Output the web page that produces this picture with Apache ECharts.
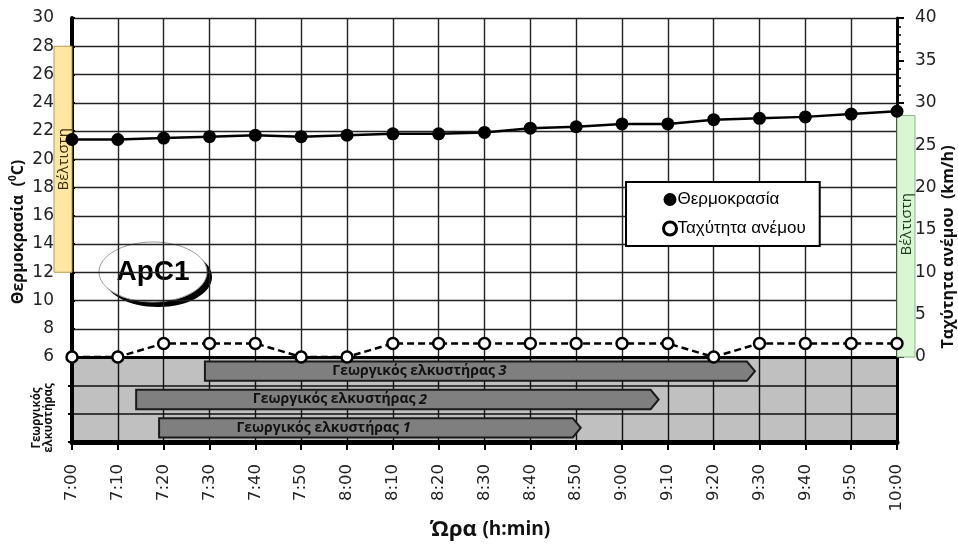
<!DOCTYPE html>
<html>
<head>
<meta charset="utf-8">
<script src="https://cdn.jsdelivr.net/npm/echarts@6/dist/echarts.min.js"></script>
<style>
  html, body { margin: 0; padding: 0; background: #fff; }
  #chart { width: 958px; height: 544px; }
</style>
</head>
<body>
<div id="chart"></div>
<script>
// Measurement times (every 10 minutes)
const times = ['7:00','7:10','7:20','7:30','7:40','7:50','8:00','8:10','8:20','8:30',
               '8:40','8:50','9:00','9:10','9:20','9:30','9:40','9:50','10:00'];
// Air temperature (°C)
const temperature = [21.4, 21.4, 21.5, 21.6, 21.7, 21.6, 21.7, 21.8, 21.8, 21.9,
                     22.2, 22.3, 22.5, 22.5, 22.8, 22.9, 23.0, 23.2, 23.4];
// Wind speed (km/h)
const windSpeed = [0, 0, 1.6, 1.6, 1.6, 0, 0, 1.6, 1.6, 1.6,
                   1.6, 1.6, 1.6, 1.6, 0, 1.6, 1.6, 1.6, 1.6];
// Optimal ranges
const optimalTemp = [12, 28];
const optimalWind = [0, 28.5];
// Tractor working periods
const tractorLabel = 'Γεωργικός ελκυστήρας';
const tractorIds = ['1', '2', '3'];
const tractorStart = ['7:19', '7:14', '7:29'];
const tractorEnd = ['8:51', '9:08', '9:29'];

const toMin = t => { const [h, m] = t.split(':').map(Number); return (h - 7) * 60 + m; };
const fmtMin = v => { const h = 7 + Math.floor(v / 60); const m = v % 60; return h + ':' + (m < 10 ? '0' + m : m); };

const FONT = 'Open Sans';
const TICK_FONT = 'DejaVu Sans';
const chart = echarts.init(document.getElementById('chart'), null, { renderer: 'canvas' });

// Narrow band beside an axis marking the optimal range
function bandItem(color, stroke, textColor, side) {
  return function (params, api) {
    const top = api.coord([0, api.value(1)]);
    const bot = api.coord([0, api.value(0)]);
    const w = 18;
    const cs = params.coordSys;
    const xx = side === 'left' ? cs.x - w : cs.x + cs.width;
    const cy = side === 'left' ? (top[1] + bot[1]) / 2 : (top[1] + bot[1]) / 2 - 12;
    return {
      type: 'group',
      children: [
        { type: 'rect', shape: { x: xx, y: top[1], width: w, height: bot[1] - top[1] },
          style: { fill: color, stroke: stroke, lineWidth: 1 } },
        { type: 'text', x: xx + w / 2 + 1, y: cy, rotation: Math.PI / 2,
          style: { text: 'Βέλτιστη', fontFamily: FONT, fontSize: 15, fill: textColor,
                   align: 'center', verticalAlign: 'middle' } }
      ]
    };
  };
}

const tractorData = tractorIds.map((id, i) => [toMin(tractorStart[i]), toMin(tractorEnd[i]), i + 0.5, id]);

const option = {
  animation: false,
  textStyle: { fontFamily: FONT },
  grid: [
    { left: 72, top: 18, width: 825, height: 339 },
    { left: 72, top: 357, width: 825, height: 85, show: true, backgroundColor: '#c0c0c0', borderWidth: 0 }
  ],
  legend: {
    left: 626, top: 182,
    orient: 'vertical',
    backgroundColor: '#fff', borderColor: '#000', borderWidth: 2,
    padding: [9, 14, 9, 36],
    itemGap: 12, itemWidth: 13, itemHeight: 13,
    textStyle: { fontFamily: 'Liberation Sans', fontSize: 17, color: '#000', padding: [0, 0, 0, -4] },
    data: [
      { name: 'Θερμοκρασία', icon: 'circle', itemStyle: { color: '#000', borderWidth: 0 } },
      { name: 'Ταχύτητα ανέμου', icon: 'circle', itemStyle: { color: '#fff', borderColor: '#000', borderWidth: 3 } }
    ]
  },
  xAxis: [
    { type: 'value', gridIndex: 0, min: 0, max: 180, interval: 10,
      axisLine: { show: true, onZero: false, lineStyle: { color: '#000', width: 3 } },
      axisTick: { show: false }, axisLabel: { show: false },
      splitLine: { show: true, lineStyle: { color: '#222', width: 1.4 } } },
    { type: 'value', gridIndex: 1, min: 0, max: 180, interval: 10,
      axisLine: { show: true, onZero: false, lineStyle: { color: '#000', width: 5 } },
      axisTick: { show: true, length: 8, lineStyle: { color: '#000', width: 2 } },
      axisLabel: { rotate: 90, margin: 22, fontSize: 16.5, color: '#222', fontFamily: TICK_FONT,
                   formatter: v => fmtMin(v) },
      splitLine: { show: true, lineStyle: { color: '#111', width: 1.4 } } }
  ],
  yAxis: [
    { type: 'value', gridIndex: 0, position: 'left', min: 6, max: 30, interval: 2,
      axisLine: { show: true, onZero: false, lineStyle: { color: '#000', width: 4 } },
      axisTick: { show: true, inside: true, length: 3, lineStyle: { color: '#000', width: 2 } },
      axisLabel: { fontSize: 17, color: '#222', margin: 18, fontFamily: TICK_FONT },
      splitLine: { show: true, lineStyle: { color: '#222', width: 1.4 } } },
    { type: 'value', gridIndex: 0, position: 'right', min: 0, max: 40, interval: 5,
      axisLine: { show: true, onZero: false, lineStyle: { color: '#000', width: 3 } },
      axisTick: { show: true, length: 7, lineStyle: { color: '#000', width: 2 } },
      minorTick: { show: true, splitNumber: 5, length: 4, lineStyle: { color: '#000', width: 1.5 } },
      axisLabel: { fontSize: 17, color: '#222', margin: 18, fontFamily: TICK_FONT },
      splitLine: { show: false } },
    { type: 'value', gridIndex: 1, position: 'left', min: 0, max: 3, interval: 1,
      axisLine: { show: true, onZero: false, lineStyle: { color: '#000', width: 4 } },
      axisTick: { show: true, length: 4, lineStyle: { color: '#000', width: 2 } },
      axisLabel: { show: false },
      splitLine: { show: true, lineStyle: { color: '#111', width: 1.5 } } },
    { type: 'value', gridIndex: 1, position: 'right', min: 0, max: 3, interval: 1,
      axisLine: { show: true, onZero: false, lineStyle: { color: '#000', width: 3 } },
      axisTick: { show: false }, axisLabel: { show: false }, splitLine: { show: false } }
  ],
  series: [
    { type: 'custom', name: 'optimalTemp', xAxisIndex: 0, yAxisIndex: 0, z: 1,
      renderItem: bandItem('#fee7a2', '#b89a50', '#3a2e0a', 'left'),
      data: [optimalTemp], silent: true },
    { type: 'custom', name: 'optimalWind', xAxisIndex: 0, yAxisIndex: 1, z: 1,
      renderItem: bandItem('#d9f7d3', '#8fb48a', '#1e3a1e', 'right'),
      data: [optimalWind], silent: true },
    { type: 'custom', name: 'tractors', xAxisIndex: 1, yAxisIndex: 2, z: 3,
      renderItem: function (params, api) {
        const s = api.coord([api.value(0), api.value(2)]);
        const e = api.coord([api.value(1), api.value(2)]);
        const h = api.size([0, 1])[1] * 0.68;
        const y = s[1], tip = 8;
        const x0 = s[0], x1 = e[0];
        return {
          type: 'group',
          children: [
            { type: 'polygon',
              shape: { points: [[x0, y - h / 2], [x1 - tip, y - h / 2], [x1, y], [x1 - tip, y + h / 2], [x0, y + h / 2]] },
              style: { fill: '#7f7f7f', stroke: '#1a1a1a', lineWidth: 2 } },
            { type: 'text', x: x0 + (x1 - x0) * 0.39, y: y,
              style: { text: '{a|' + tractorLabel + ' }{b|' + api.value(3) + '}',
                       align: 'center', verticalAlign: 'middle',
                       rich: {
                         a: { fontFamily: FONT, fontSize: 14, fontWeight: 'bold', fill: '#111', color: '#111' },
                         b: { fontFamily: FONT, fontSize: 14.5, fontStyle: 'italic', fontWeight: 'bold', fill: '#111', color: '#111' }
                       } } }
          ]
        };
      },
      dimensions: ['start', 'end', 'row', 'id'],
      encode: { x: [0, 1], y: 2 },
      data: tractorData, silent: true },
    { type: 'line', name: 'Θερμοκρασία', xAxisIndex: 0, yAxisIndex: 0, z: 5,
      data: times.map((t, i) => [toMin(t), temperature[i]]),
      symbol: 'circle', symbolSize: 13, clip: false,
      lineStyle: { color: '#000', width: 2.5 },
      itemStyle: { color: '#000', borderWidth: 0 } },
    { type: 'line', name: 'Ταχύτητα ανέμου', xAxisIndex: 0, yAxisIndex: 1, z: 6,
      data: times.map((t, i) => [toMin(t), windSpeed[i]]),
      symbol: 'circle', symbolSize: 11, clip: false,
      lineStyle: { color: '#000', width: 2.5, type: [7, 4] },
      itemStyle: { color: '#fff', borderColor: '#000', borderWidth: 2.5 } }
  ],
  graphic: [
    // left axis title
    { type: 'text', rotation: Math.PI / 2, position: [18, 232],
      style: { text: '{a|Θερμοκρασία  (}{s|0}{a|C)}', align: 'center', verticalAlign: 'middle',
               rich: { a: { fontFamily: FONT, fontSize: 16, fontWeight: 'bold', fill: '#111' },
                       s: { fontFamily: FONT, fontSize: 10, fontWeight: 'bold', fill: '#111', padding: [0, 0, 9, 0] } } } },
    // right axis title
    { type: 'text', position: [948, 247], rotation: Math.PI / 2,
      style: { text: 'Ταχύτητα ανέμου  (km/h)', align: 'center', verticalAlign: 'middle',
               fontFamily: FONT, fontSize: 16, fontWeight: 'bold', fill: '#111' } },
    // x axis title
    { type: 'text', position: [490, 530],
      style: { text: '{a|Ώρα }{b|(h:min)}', align: 'center', verticalAlign: 'middle',
               rich: { a: { fontFamily: FONT, fontSize: 22, fontWeight: 'bold', fill: '#111' },
                       b: { fontFamily: FONT, fontSize: 19, fontWeight: 'bold', fill: '#111' } } } },
    // tractor panel title
    { type: 'text', position: [43, 418], rotation: Math.PI / 2,
      style: { text: 'Γεωργικός\nελκυστήρας', align: 'center', verticalAlign: 'middle', lineHeight: 12,
               fontFamily: FONT, fontSize: 11.5, fontWeight: 'bold', fill: '#111' } },
    // site badge
    { type: 'group', z: 10, children: [
      { type: 'ellipse', shape: { cx: 158, cy: 277, rx: 54, ry: 30 }, style: { fill: '#000' } },
      { type: 'ellipse', shape: { cx: 153, cy: 272, rx: 54, ry: 30 }, style: { fill: '#fff', stroke: '#999', lineWidth: 1 } },
      { type: 'text', position: [153, 272],
        style: { text: 'ApC1', align: 'center', verticalAlign: 'middle',
                 fontFamily: 'Liberation Sans', fontSize: 28, fontWeight: 'bold', fill: '#000' } }
    ] }
  ]
};
chart.setOption(option);
</script>
</body>
</html>
